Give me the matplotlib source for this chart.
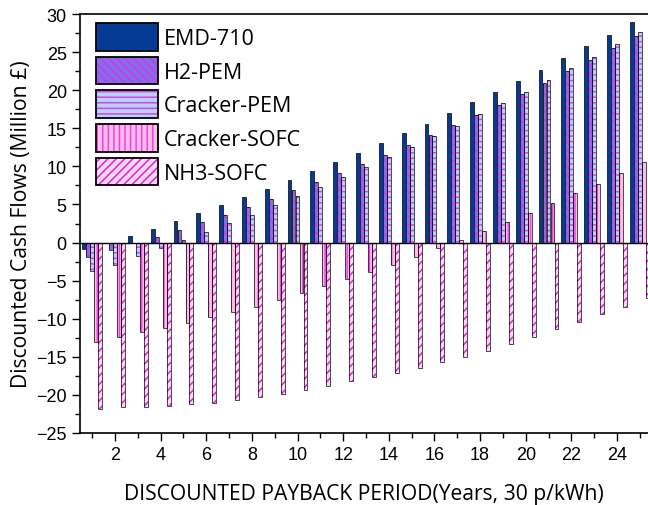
import matplotlib
matplotlib.use("Agg")
import matplotlib.pyplot as plt
import numpy as np
from matplotlib.patches import Patch
from matplotlib.ticker import MultipleLocator

# ── Data ─────────────────────────────────────────────────────────────────────
years = np.arange(1, 26)

emd_710 = [-0.9, -0.1, 0.9, 1.8, 2.85, 3.85, 4.9, 6.0, 7.05, 8.25,
           9.4, 10.6, 11.8, 13.1, 14.35, 15.6, 17.0, 18.4, 19.8, 21.2,
           22.7, 24.2, 25.75, 27.3, 28.9]
h2_pem = [-1.9, -1.0, -0.1, 0.7, 1.7, 2.7, 3.65, 4.65, 5.75, 6.85,
          8.0, 9.1, 10.35, 11.5, 12.8, 14.1, 15.45, 16.8, 18.1, 19.5,
          21.0, 22.5, 24.0, 25.5, 27.05]
cracker_pem = [-3.8, -2.9, -1.8, -0.75, 0.35, 1.35, 2.6, 3.65, 4.87, 6.1,
               7.3, 8.6, 9.9, 11.2, 12.55, 14.0, 15.35, 16.85, 18.3, 19.8,
               21.4, 22.85, 24.4, 26.1, 27.7]
cracker_sofc = [-13.0, -12.4, -11.8, -11.2, -10.5, -9.8, -9.1, -8.4, -7.5, -6.65,
                -5.7, -4.8, -3.9, -2.9, -1.85, -0.75, 0.3, 1.5, 2.7, 3.9,
                5.2, 6.45, 7.75, 9.1, 10.6]
nh3_sofc = [-21.8, -21.65, -21.6, -21.4, -21.2, -21.0, -20.65, -20.3, -19.9, -19.4,
            -18.8, -18.2, -17.6, -17.1, -16.5, -15.7, -15.0, -14.2, -13.3, -12.4,
            -11.4, -10.4, -9.4, -8.4, -7.3]

labels = ["EMD-710", "H2-PEM", "Cracker-PEM", "Cracker-SOFC", "NH3-SOFC"]
series = [emd_710, h2_pem, cracker_pem, cracker_sofc, nh3_sofc]

# face colour, hatch pattern, hatch colour
styles = [
    ("#063b94", None,       None),
    ("#8070f0", "\\\\\\\\", "#e030e0"),
    ("#b4d4ff", "---",      "#e040e0"),
    ("#ffbce4", "|||",      "#f040f0"),
    ("#ffd8f4", "////",     "#e020e0"),
]

plt.rcParams["hatch.linewidth"] = 1.1

fig = plt.figure(figsize=(6.48, 5.06), dpi=100)
ax = fig.add_axes([80 / 648, 1 - 434 / 506, 1 - 80 / 648, (434 - 15) / 506])

step = 0.175
width = 0.17
handles = []
for i, (vals, (fc, hatch, hc)) in enumerate(zip(series, styles)):
    x = years + (i - 2) * step
    if hatch is None:
        ax.bar(x, vals, width, color=fc, edgecolor="black", linewidth=0.5, zorder=3)
        handles.append(Patch(facecolor=fc, edgecolor="black", linewidth=1.3))
    else:
        ax.bar(x, vals, width, color=fc, hatch=hatch, edgecolor=hc, linewidth=0, zorder=3)
        ax.bar(x, vals, width, fill=False, edgecolor="black", linewidth=0.5, zorder=4)
        handles.append((Patch(facecolor=fc, hatch=hatch, edgecolor=hc, linewidth=0),
                        Patch(fill=False, edgecolor="black", linewidth=1.3)))

ax.axhline(0, color="black", linewidth=1.0, zorder=5)

ax.set_xlim(0.466, 25.36)
ax.set_ylim(-25, 30)
ax.xaxis.set_major_locator(MultipleLocator(2))
ax.xaxis.set_minor_locator(MultipleLocator(1))
ax.yaxis.set_major_locator(MultipleLocator(5))
ax.yaxis.set_minor_locator(MultipleLocator(2.5))
ax.tick_params(which="major", direction="out", length=6, width=1.0, labelsize=13)
ax.tick_params(which="minor", direction="out", length=3.5, width=1.0)
ax.tick_params(axis="x", which="both", top=False)
ax.set_xticks(np.arange(2, 25, 2))
for lab in ax.get_xticklabels() + ax.get_yticklabels():
    lab.set_fontfamily("Liberation Sans")

ax.spines["right"].set_visible(False)
for s in ("left", "bottom", "top"):
    ax.spines[s].set_linewidth(1.2)

ax.set_xlabel("DISCOUNTED PAYBACK PERIOD(Years, 30 p/kWh)",
              fontfamily="Open Sans", fontsize=15.2, labelpad=14)
ax.set_ylabel("Discounted Cash Flows (Million £)",
              fontfamily="Open Sans", fontsize=15.2, labelpad=3)

ax.legend(handles, labels, loc="upper left",
          bbox_to_anchor=(96 / 648, 1 - 24 / 506), bbox_transform=fig.transFigure,
          frameon=False, borderpad=0, borderaxespad=0,
          handlelength=2.9, handleheight=1.6,
          labelspacing=0.28, handletextpad=0.25,
          prop={"family": "Open Sans", "size": 15.5})

fig.savefig("out.png", dpi=100)
